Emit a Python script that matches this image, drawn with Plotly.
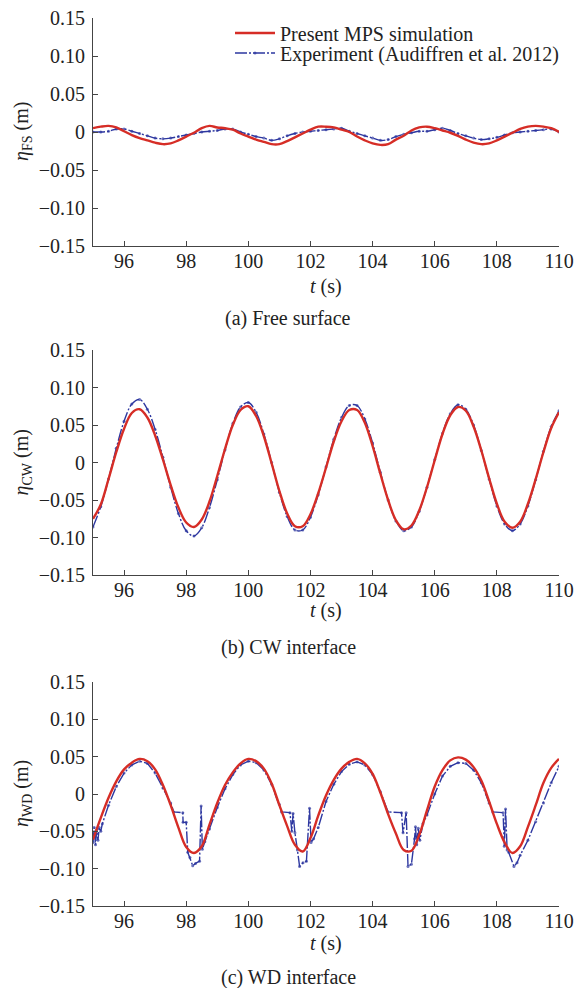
import plotly.graph_objects as go

# ---------------- data ----------------
T_GRID = [95.0, 95.25, 95.5, 95.75, 96.0, 96.25, 96.5, 96.75, 97.0, 97.25, 97.5, 97.75,
          98.0, 98.25, 98.5, 98.75, 99.0, 99.25, 99.5, 99.75, 100.0, 100.25, 100.5, 100.75,
          101.0, 101.25, 101.5, 101.75, 102.0, 102.25, 102.5, 102.75, 103.0, 103.25, 103.5, 103.75,
          104.0, 104.25, 104.5, 104.75, 105.0, 105.25, 105.5, 105.75, 106.0, 106.25, 106.5, 106.75,
          107.0, 107.25, 107.5, 107.75, 108.0, 108.25, 108.5, 108.75, 109.0, 109.25, 109.5, 109.75, 110.0]

# (a) free surface
FS_MPS = [0.005, 0.007, 0.008, 0.006, 0.001, -0.004, -0.008, -0.011, -0.014, -0.016, -0.015, -0.011,
          -0.006, -0.001, 0.005, 0.008, 0.006, 0.005, 0.003, -0.002, -0.006, -0.010, -0.013, -0.016,
          -0.016, -0.012, -0.007, -0.002, 0.003, 0.007, 0.007, 0.006, 0.003, 0.000, -0.006, -0.011,
          -0.015, -0.017, -0.016, -0.010, -0.005, 0.002, 0.006, 0.007, 0.005, 0.002, -0.001, -0.005,
          -0.010, -0.014, -0.016, -0.015, -0.011, -0.006, -0.001, 0.004, 0.007, 0.008, 0.007, 0.005, 0.000]
FS_EXP = [0.000, 0.000, 0.001, 0.004, 0.004, 0.001, -0.002, -0.005, -0.008, -0.009, -0.008, -0.006,
          -0.004, -0.002, 0.000, 0.001, 0.002, 0.004, 0.004, 0.000, -0.003, -0.006, -0.008, -0.011,
          -0.009, -0.005, -0.002, 0.000, 0.001, 0.002, 0.003, 0.004, 0.005, 0.001, -0.002, -0.005,
          -0.008, -0.011, -0.010, -0.006, -0.003, -0.001, 0.001, 0.001, 0.003, 0.005, 0.002, -0.002,
          -0.005, -0.008, -0.010, -0.009, -0.007, -0.004, -0.001, 0.000, 0.001, 0.002, 0.003, 0.004, 0.000]

# (b) CW interface
CW_MPS = [-0.075, -0.056, -0.022, 0.014, 0.045, 0.066, 0.071, 0.060, 0.036, 0.004, -0.030, -0.060,
          -0.080, -0.086, -0.076, -0.052, -0.018, 0.018, 0.050, 0.070, 0.075, 0.062, 0.035, -0.001,
          -0.038, -0.068, -0.085, -0.085, -0.069, -0.041, -0.007, 0.028, 0.055, 0.070, 0.070, 0.053,
          0.022, -0.015, -0.050, -0.077, -0.089, -0.084, -0.064, -0.033, 0.003, 0.038, 0.063, 0.074,
          0.069, 0.048, 0.016, -0.021, -0.055, -0.079, -0.087, -0.079, -0.055, -0.022, 0.014, 0.046, 0.067]
CW_EXP = [-0.086, -0.059, -0.022, 0.019, 0.055, 0.078, 0.084, 0.071, 0.044, 0.007, -0.033, -0.068,
          -0.091, -0.098, -0.087, -0.060, -0.023, 0.017, 0.052, 0.074, 0.080, 0.067, 0.038, 0.000,
          -0.040, -0.072, -0.090, -0.090, -0.073, -0.043, -0.006, 0.031, 0.060, 0.076, 0.076, 0.058,
          0.026, -0.013, -0.050, -0.078, -0.091, -0.086, -0.065, -0.033, 0.004, 0.039, 0.065, 0.077,
          0.071, 0.050, 0.016, -0.022, -0.058, -0.082, -0.091, -0.082, -0.058, -0.023, 0.015, 0.048, 0.069]

# (c) WD interface
WD_MPS = [-0.061, -0.032, -0.005, 0.017, 0.033, 0.042, 0.047, 0.044, 0.033, 0.012, -0.015, -0.045,
          -0.071, -0.079, -0.070, -0.041, -0.012, 0.012, 0.029, 0.041, 0.047, 0.044, 0.034, 0.014,
          -0.015, -0.043, -0.068, -0.077, -0.059, -0.029, -0.002, 0.019, 0.034, 0.043, 0.047, 0.041,
          0.027, 0.002, -0.027, -0.053, -0.075, -0.076, -0.055, -0.022, 0.010, 0.032, 0.045, 0.049,
          0.046, 0.036, 0.018, -0.010, -0.040, -0.065, -0.079, -0.070, -0.044, -0.015, 0.015, 0.035, 0.047]
WD_EXP_T = [95.00, 95.04, 95.08, 95.12, 95.16, 95.20, 95.25, 95.30, 95.50, 95.75, 96.00, 96.25,
            96.50, 96.75, 97.00, 97.25, 97.50, 97.60, 97.89, 97.90, 98.00, 98.05, 98.12, 98.21,
            98.30, 98.43, 98.48, 98.52, 98.60, 98.75, 99.00, 99.25, 99.50, 99.75, 100.00, 100.25,
            100.50, 100.75, 101.00, 101.07, 101.34, 101.40, 101.44, 101.50, 101.58, 101.65, 101.76, 101.87,
            101.97, 102.02, 102.10, 102.25, 102.50, 102.75, 103.00, 103.25, 103.50, 103.75, 104.00, 104.25,
            104.50, 104.93, 104.98, 105.08, 105.14, 105.25, 105.35, 105.38, 105.42, 105.47, 105.52, 105.62,
            105.75, 106.00, 106.25, 106.50, 106.75, 107.00, 107.25, 107.50, 107.75, 107.87, 108.20, 108.24,
            108.28, 108.33, 108.38, 108.55, 108.65, 108.75, 109.00, 109.25, 109.50, 109.75, 110.00]
WD_EXP = [-0.065, -0.045, -0.068, -0.048, -0.062, -0.045, -0.050, -0.040, -0.015, 0.010, 0.028, 0.039,
          0.044, 0.041, 0.028, 0.008, -0.012, -0.024, -0.025, -0.038, -0.038, -0.078, -0.085, -0.096,
          -0.093, -0.090, -0.016, -0.074, -0.064, -0.047, -0.018, 0.007, 0.026, 0.039, 0.044, 0.042,
          0.032, 0.013, -0.014, -0.024, -0.025, -0.050, -0.026, -0.052, -0.075, -0.097, -0.092, -0.090,
          -0.019, -0.065, -0.060, -0.045, -0.010, 0.013, 0.030, 0.040, 0.043, 0.039, 0.026, 0.003,
          -0.024, -0.025, -0.052, -0.025, -0.097, -0.094, -0.060, -0.044, -0.068, -0.046, -0.062, -0.040,
          -0.028, 0.000, 0.024, 0.037, 0.042, 0.041, 0.032, 0.015, -0.012, -0.024, -0.025, -0.070,
          -0.020, -0.075, -0.078, -0.097, -0.092, -0.082, -0.062, -0.037, -0.012, 0.015, 0.037]

X_TICKS = [96, 98, 100, 102, 104, 106, 108, 110]
Y_TICKS = [-0.15, -0.10, -0.05, 0, 0.05, 0.10, 0.15]
Y_TICK_TEXT = ["\u22120.15", "\u22120.10", "\u22120.05", "0", "0.05", "0.10", "0.15"]
Y_TITLES = ["<i>\u03b7</i><sub>FS</sub> (m)", "<i>\u03b7</i><sub>CW</sub> (m)", "<i>\u03b7</i><sub>WD</sub> (m)"]
CAPTIONS = ["(a) Free surface", "(b) CW interface", "(c) WD interface"]
LEGEND_NAMES = ["Present MPS simulation", "Experiment (Audiffren et al. 2012)"]

# ---------------- style ----------------
W, H = 576, 988
FONT = "Liberation Serif, Times New Roman, serif"
RED = "rgb(214,45,38)"
BLUE = "rgb(45,55,160)"
AXC = "#444444"
FS = 20

X_LEFT, X_RIGHT = 93, 559
PANELS = [(18, 246), (350, 575), (682, 906)]
XTITLE_Y = [287, 610, 943]
CAPTION_Y = [318, 647, 977]

def py(p):
    return 1 - p / H

fig = go.Figure()
series = [(T_GRID, FS_MPS, T_GRID, FS_EXP),
          (T_GRID, CW_MPS, T_GRID, CW_EXP),
          (T_GRID, WD_MPS, WD_EXP_T, WD_EXP)]

for i, (tm, ym, te, ye) in enumerate(series):
    suf = "" if i == 0 else str(i + 1)
    fig.add_trace(go.Scatter(
        x=te, y=ye, mode="lines+markers", name=LEGEND_NAMES[1],
        line=dict(color=BLUE, width=1.4, dash="12px,2px,2px,2px",
                  shape="spline" if i < 2 else "linear"),
        marker=dict(size=3, color=BLUE, opacity=0.7),
        xaxis="x" + suf, yaxis="y" + suf, showlegend=(i == 0), legend="legend2"))
    fig.add_trace(go.Scatter(
        x=tm, y=ym, mode="lines", name=LEGEND_NAMES[0],
        line=dict(color=RED, width=2.4, shape="spline"),
        xaxis="x" + suf, yaxis="y" + suf, showlegend=(i == 0), legend="legend"))

legend_common = dict(xanchor="left", yanchor="middle", bgcolor="rgba(0,0,0,0)",
                     font=dict(size=FS, family=FONT), itemwidth=40)
layout = dict(
    width=W, height=H, autosize=False,
    margin=dict(l=0, r=0, t=0, b=0),
    paper_bgcolor="white", plot_bgcolor="white",
    font=dict(family=FONT, size=FS, color="#222222"),
    legend=dict(x=230 / W, y=py(33), **legend_common),
    legend2=dict(x=230 / W, y=py(53), **legend_common),
    annotations=[],
)

for i, (top, bot) in enumerate(PANELS):
    suf = "" if i == 0 else str(i + 1)
    layout["xaxis" + suf] = dict(
        domain=[X_LEFT / W, X_RIGHT / W], range=[95, 110], anchor="y" + suf,
        tickvals=X_TICKS, ticks="inside", ticklen=5, tickcolor=AXC,
        showline=True, linecolor=AXC, linewidth=1, showgrid=False, zeroline=False,
        automargin=False, tickfont=dict(family=FONT, size=FS), ticklabelstandoff=-3)
    layout["yaxis" + suf] = dict(
        domain=[py(bot), py(top)], range=[-0.15, 0.15], anchor="x" + suf,
        tickvals=Y_TICKS, ticktext=Y_TICK_TEXT, ticks="inside", ticklen=5, tickcolor=AXC,
        showline=True, linecolor=AXC, linewidth=1, showgrid=False, zeroline=False,
        automargin=False, tickfont=dict(family=FONT, size=FS), ticklabelstandoff=3)
    layout["annotations"].append(dict(
        text="<i>t</i> (s)", x=(X_LEFT + X_RIGHT) / 2 / W, y=py(XTITLE_Y[i]),
        xref="paper", yref="paper", xanchor="center", yanchor="middle",
        showarrow=False, font=dict(family=FONT, size=FS)))
    layout["annotations"].append(dict(
        text=Y_TITLES[i], x=22 / W, y=py((top + bot) / 2),
        xref="paper", yref="paper", xanchor="center", yanchor="middle", textangle=-90,
        showarrow=False, font=dict(family=FONT, size=FS)))
    layout["annotations"].append(dict(
        text=CAPTIONS[i], x=0.5, y=py(CAPTION_Y[i]),
        xref="paper", yref="paper", xanchor="center", yanchor="middle",
        showarrow=False, font=dict(family=FONT, size=FS)))

fig.update_layout(**layout)
fig.write_html("out.html")
